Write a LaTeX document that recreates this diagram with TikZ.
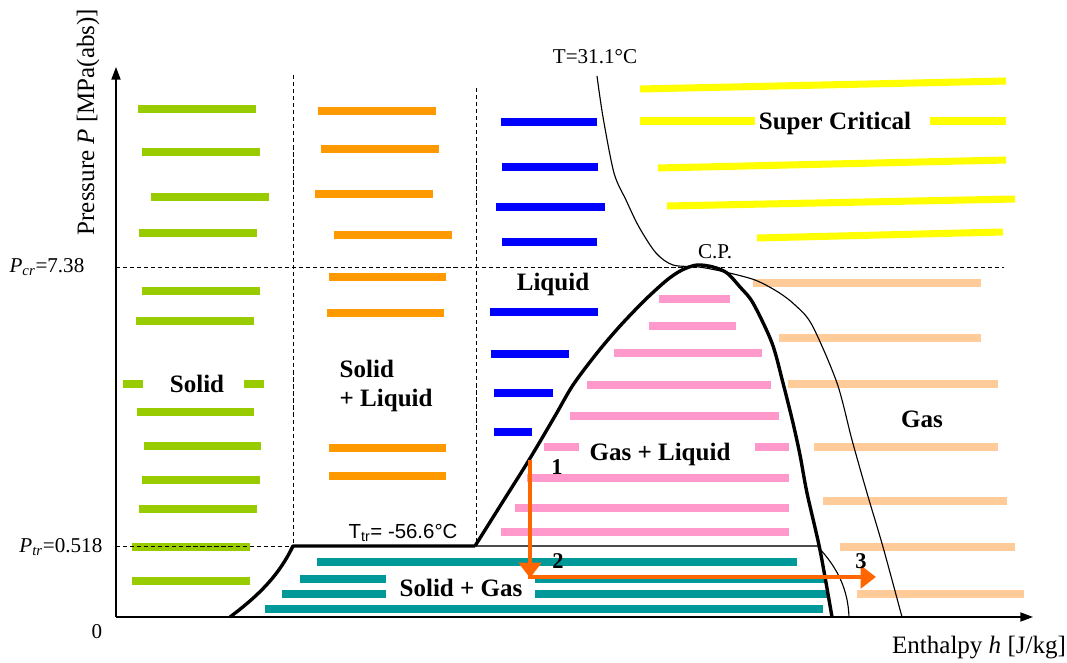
\documentclass[tikz,border=0pt]{standalone}
\usepackage{fontspec}
\setmainfont{Liberation Serif}
\newfontfamily\arialfont{Liberation Sans}
\usepackage{xcolor}
\usepackage{tikz}
\usetikzlibrary{arrows.meta}
\definecolor{solidgreen}{RGB}{153,204,0}
\definecolor{meltorange}{RGB}{255,153,0}
\definecolor{liquidblue}{RGB}{0,0,255}
\definecolor{superyellow}{RGB}{255,255,0}
\definecolor{mixpink}{RGB}{255,153,204}
\definecolor{gaspeach}{RGB}{255,204,153}
\definecolor{subteal}{RGB}{0,153,153}
\definecolor{pathorange}{RGB}{255,102,0}
\tikzset{
	phasebar/.style={line width=5pt},
	guide/.style={line width=0.7pt, dash pattern=on 3pt off 2pt},
	dome/.style={line width=2.4pt, line join=round},
	iso/.style={line width=0.8pt},
	axis/.style={line width=1pt, -{Triangle[length=9pt,width=6.5pt]}},
	route/.style={pathorange, line width=3.2pt, -{Triangle[length=11pt,width=16pt]}},
	region/.style={inner sep=1pt, font=\fontsize{17.8}{21.3}\selectfont\bfseries},
	note/.style={inner sep=1pt, font=\fontsize{15}{18}\selectfont},
	num/.style={inner sep=1pt, font=\fontsize{16}{18}\selectfont\bfseries},
	axislabel/.style={inner sep=1pt, font=\fontsize{17.8}{21}\selectfont}
}

\begin{document}
\begin{tikzpicture}[x=0.025cm, y=-0.025cm]
	\useasboundingbox (0,0) rectangle (1067,663);

	\foreach \a/\b/\y in {138/256/109, 142/260/152, 151/269/197, 139/257/233, 142/260/291, 136/254/321,
		123/143/384, 244/264/384, 137/254/412, 144/261/446, 142/260/480, 139/257/509, 132/250/547, 132/250/581}
		\draw[phasebar, solidgreen] (\a,\y) -- (\b,\y);
	\foreach \a/\b/\y in {318/436/111, 321/439/149, 315/433/194, 334/452/235, 329/446/277, 327/444/313,
		329/446/448, 329/446/476}
		\draw[phasebar, meltorange] (\a,\y) -- (\b,\y);
	\foreach \a/\b/\y in {501/597/122, 502/598/167, 496/605/207, 502/597/242,
		490/598/312, 491/569/354, 494/553/393, 494/532/432}
		\draw[phasebar, liquidblue] (\a,\y) -- (\b,\y);
	\foreach \a/\p/\b/\q in {640/89/1006/81, 640/121/755/121, 930/121/1006/121, 658/168/1006/160,
		667/206/1015/199, 757/238/1003/232}
		\draw[phasebar, superyellow] (\a,\p) -- (\b,\q);
	\foreach \a/\b/\y in {659/730/299, 649/736/326, 614/762/353, 587/771/385, 570/779/416,
		544/579/447, 755/789/447, 527/789/478, 515/789/508, 501/789/532}
		\draw[phasebar, mixpink] (\a,\y) -- (\b,\y);
	\foreach \a/\b/\y in {753/981/283, 779/981/338, 788/998/384, 814/998/447, 823/1007/501,
		840/1015/547, 857/1024/594}
		\draw[phasebar, gaspeach] (\a,\y) -- (\b,\y);
	\foreach \a/\b/\y in {317/797/562, 300/386/579, 535/826/579, 282/386/594, 535/827/594, 265/823/609}
		\draw[phasebar, subteal] (\a,\y) -- (\b,\y);

	\draw[guide] (293,75) -- (293,546);
	\draw[guide] (476,88) -- (476,546);
	\draw[guide] (116,267) -- (1004,267);
	\draw[guide] (116,546) -- (293,546);

	\coordinate (origin) at (116,617);
	\coordinate (ptop) at (116,67);
	\coordinate (hend) at (1033,617);
	\draw[axis] (origin) -- (ptop);
	\draw[axis] (origin) -- (hend);

	\coordinate (tp) at (475,546);
	\coordinate (cp) at (697,265);
	\draw[gray!60!black, line width=0.8pt] (tp) -- (818,546);
	\draw[dome] (230,617) .. controls (262,593) and (280,573) .. (293,546) -- (tp);
	\draw[dome] plot[smooth] coordinates {(475,546) (502,503) (529,460) (555,416) (573,385) (597,353)
		(620,326) (645,300) (667,280) (682,270) (697,265) (713,267) (727,273) (740,287) (753,303)
		(772,343) (783,383) (793,423) (800,455) (807,493) (820,550) (832,617)};
	\draw[iso] plot[smooth] coordinates {(597,76) (603,117) (614,173) (626,200) (639,227) (656,253)
		(673,265) (699,267) (725,272) (755,280) (778,292) (795,305) (812,325) (837,383) (852,440)
		(867,493) (883,547) (902,617)};
	\draw[iso] (818,547) .. controls (838,568) and (848,590) .. (849,617);

	\coordinate (p1) at (530,460);
	\coordinate (p2) at (530,578);
	\coordinate (p3) at (876,577);
	\draw[route] (p1) -- (p2);
	\draw[route] (528,577) -- (p3);

	\node[num] (n1) at (557,467){1};
	\node[num] (n2) at (558,561){2};
	\node[num] (n3) at (861,561){3};

	\node[region] (solid) at (197,384){Solid};
	\node[region, align=left, anchor=west] (solidliquid) at (338,386){Solid\\+ Liquid};
	\node[region] (liquid) at (553,284){Liquid};
	\node[region] (supercrit) at (835,123){Super Critical};
	\node[region] (gas) at (922,419){Gas};
	\node[region] (gasliquid) at (660,454){Gas + Liquid};
	\node[region] (solidgas) at (461,588){Solid + Gas};

	\node[note] (cplabel) at (715,252){C.P.};
	\node[note] (tcrit) at (595,57){T=31.1°C};
	\node[note, font=\fontsize{14.5}{17}\arialfont] (ttriple) at (403,533){T\textsubscript{tr}= -56.6°C};
	\node[note, anchor=east] (pcr) at (86,267){\textit{P}\textsubscript{\textit{cr}}=7.38};
	\node[note, anchor=east] (ptr) at (104,547){\textit{P}\textsubscript{\textit{tr}}=0.518};
	\node[note] (zero) at (97,632){0};

	\node[axislabel, rotate=90] (plabel) at (88,122){Pressure \textit{P} [MPa(abs)]};
	\node[axislabel] (hlabel) at (979,648){Enthalpy \textit{h} [J/kg]};
\end{tikzpicture}
\end{document}
